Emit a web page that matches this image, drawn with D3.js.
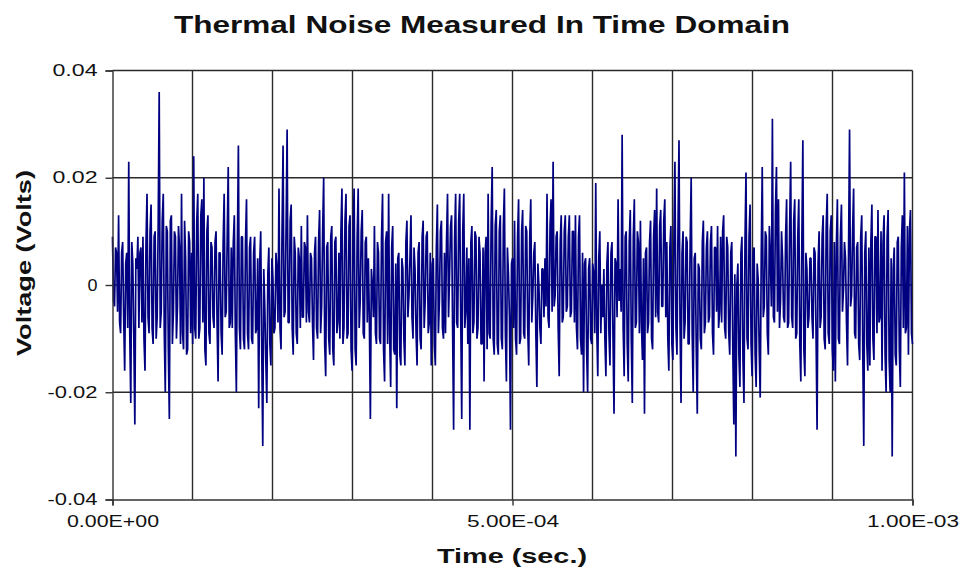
<!DOCTYPE html>
<html>
<head>
<meta charset="utf-8">
<script src="https://cdn.jsdelivr.net/npm/d3@7"></script>
<style>
  html, body { margin: 0; padding: 0; background: #ffffff; }
  svg { display: block; }
  text { font-family: "Liberation Sans", Arial, sans-serif; fill: #111; }
</style>
</head>
<body>
<svg id="chart" width="959" height="572"></svg>
<script>
// ---- data ----
const chartTitle = "Thermal Noise Measured In Time Domain";
const xAxisTitle = "Time (sec.)";
const yAxisTitle = "Voltage (Volts)";

const timeStart = 0;          // seconds
const timeEnd = 1.0e-3;       // seconds
const timeTickValues = [0, 5.0e-4, 1.0e-3];
const timeTickLabels = ["0.00E+00", "5.00E-04", "1.00E-03"];
const timeGridValues = [1e-4, 2e-4, 3e-4, 4e-4, 5e-4, 6e-4, 7e-4, 8e-4, 9e-4, 1e-3];

const voltageTickValues = [-0.04, -0.02, 0, 0.02, 0.04];
const voltageTickLabels = ["-0.04", "-0.02", "0", "0.02", "0.04"];

// measured voltage samples, in millivolts, evenly spaced over the time span
const voltageMillivolts = [
  // 0 .. ~1.2E-04
  9, -3, -4, 7, 6, -5, 13, -7, -9, 6, 8, -6, -16, 4, 6, -8, 23, -9, -22, 8, 4, -10, -26, 5, 3, 9, -8, 6, 7, -7,
  9, -10, -16, 8, 17, -6, -9, 10, 15, -8, -11, 9, 10, -10, -6, 11, 36, -8, -5, 12, 17, -9, -20, 11, 10, -12, -25, 12,
  13, -11, -5, 10, 9, -10, -4, 11, 7, -11, 17, -9, -12, 12, 5, -13, -12, 10, 8, -9, 6, -11, 24, -8, -10, 12, 17, -10,
  -8, 13, 16, -7, 20, -12, -15, 10, 13, -9, -11, 8,
  // ~1.2E-04 .. ~2.4E-04
  7, -6, -8, 8, 10, -7, -18, 6, 6, -9, -13, 8, 17, -6, -5, 9, 22, -8, -7, 7, -8, 8, 13, -9, -20, 7, 26, -8, -12, 9,
  9, -10, -12, 8, 16, -9, -12, 7, 9, -10, -11, 6, 9, -9, -8, 5, -23, 4, 10, -12, -30, 3, -4, -14, -22, 2, 7, -11,
  -15, 5, 1, -9, -8, 6, 3, -7, 18, -8, -12, 10, 26, -6, -5, 11, 29, -7, -7, 12, 15, -8, -13, 9, 6, -9, -11, 7, 5, -8,
  11, -6, -6, 8, 7, -7, 13, -5, -7, 6,
  // ~2.4E-04 .. ~3.7E-04
  5, -7, -14, 6, 9, -8, -10, 8, 14, -9, -4, 10, 20, -11, -17, 7, 8, -10, -13, 9, 11, -12, -15, 8, 9, -9, -7, 6, -10, 10,
  18, -11, -8, 12, 17, -10, -9, 11, 13, -12, -16, 10, 18, -12, -15, 9, 18, -8, -3, 10, 14, -9, -10, 8, 9, -7, 5, -6,
  -25, 3, 0, -6, 11, -9, -11, 8, 6, -10, -11, 9, 17, -12, -18, 8, 10, -11, 17, -9, -19, 7, 11, -12, -13, 4, -23, 5,
  6, -13, -15, 5, 3, -10, -15, 8, 12, -6, -2, 5,
  // ~3.7E-04 .. ~5.0E-04
  13, -6, -10, 7, 3, -9, -15, 6, 8, -10, -12, 9, 12, -8, -3, 9, 10, -9, -7, 6, -15, 4, 5, -11, -15, 7, 15, -9, -3, 10,
  12, -8, -10, 6, -9, 8, 17, -6, 2, 11, 13, -8, -27, 9, 17, -7, -8, 12, 17, -6, -25, 10, 17, -8, -5, 7, -11, 5,
  -27, 8, 11, -9, -7, 10, 9, -10, -8, 9, 6, -11, -11, 7, -18, 6, 9, -12, 17, -9, -10, 12, 22, -10, -13, 11, 14, -11,
  -13, 10, 13, -10, -12, 11, 18, -9, -18, 7, 2, -6,
  // ~5.0E-04 .. ~6.2E-04
  -27, 4, 5, -8, 12, -10, -13, 9, 16, -11, -10, 10, 14, -9, -10, 11, 10, -8, -15, 9, 16, -7, -2, 6, 8, -9, -19, 4, 0, -8,
  -11, 3, 3, -6, 5, -4, 17, -6, -8, 11, 16, -5, 23, -4, -2, 9, 10, -8, -17, 8, 13, -7, -6, 10, 13, -5, -4, 9,
  13, -6, -5, 10, 10, -7, 13, -8, -12, 9, 13, -10, -13, 6, -20, 4, 5, -12, -20, 3, 5, -10, -11, 4, 2, -9, 19, -8,
  -17, 5, 10, -9, 0, -6, 3, -10, -17, 4,
  // ~6.2E-04 .. ~7.5E-04
  8, -9, -15, 6, 8, -10, -24, 5, 4, -6, 16, -3, 3, -5, 28, -8, -17, 9, 10, -11, -18, 8, 14, -10, -22, 9, 16, -8, -7, 10,
  8, -9, 12, -7, -14, 5, -24, 6, 7, -9, -7, 8, 12, -10, -12, 9, 14, -6, 18, -5, -7, 11, 14, -4, -4, 12, 16, -6,
  8, -10, -16, 7, 11, -11, -14, 9, 23, -8, -13, 10, 27, -7, -22, 6, 10, -10, -7, 9, 8, -11, -11, 8, 20, -9, -20, 5,
  6, -12, -24, 4, 3, -10, -12, 8, 12, -9, -7, 7,
  // ~7.5E-04 .. ~8.7E-04
  10, -7, -6, 8, 11, -9, -13, 7, 7, -5, 11, -8, -5, 9, -7, 10, 13, -8, -10, 9, 7, -9, -13, 6, 8, -12, -26, 2, -32, 0,
  4, -13, -19, 6, 9, -14, -22, 8, 21, -10, -12, 9, 15, -11, -17, 6, 7, -13, -19, 4, 1, -12, -21, 5, 22, -6, -4, 10,
  9, -9, -13, 11, 5, -4, 31, -6, -7, 14, 22, -5, 16, -8, -3, 10, 5, -6, -7, 9, 16, -8, -7, 11, 23, -6, -8, 12,
  16, -10, -9, 9, 16, -11, -18, 8, 27, -12, -17, 6, 3, -8, -6, 5,
  // ~8.7E-04 .. 1.0E-03
  5, -6, -10, 7, 6, -9, -27, 4, 10, -8, -6, 9, 13, -10, -12, 11, 17, -9, -11, 10, 13, -12, -16, 8, -18, 7, 16, -10, -11, 9,
  15, -5, -1, 8, 5, -7, -15, 6, 29, -4, -2, 10, 18, -9, -10, 7, 8, -11, -14, 9, 13, -12, -30, 6, 10, -11, -16, 7,
  -15, 8, 15, -10, -14, 9, 9, -9, 14, -7, -6, 10, -16, 8, 13, -13, -20, 9, 14, -14, -20, 5, -32, 3, 7, -13, -15, 8,
  9, -12, -19, 7, 13, -8, 21, -9, -8, 11, -13, 10, 14, -9, -11
];

// ---- build the series (uniform sampling interval) ----
const sampleInterval = (timeEnd - timeStart) / (voltageMillivolts.length - 1);
const series = voltageMillivolts.map((mv, i) => ({ t: timeStart + i * sampleInterval, v: mv / 1000 }));

// ---- layout ----
const svg = d3.select("#chart");
const plot = { left: 112.5, right: 912.5, top: 70.5, bottom: 499.5 };

const x = d3.scaleLinear().domain([timeStart, timeEnd]).range([plot.left, plot.right]);
const y = d3.scaleLinear().domain([-0.04, 0.04]).range([plot.bottom, plot.top]);

const gridColor = "#2a2a2a";

// horizontal gridlines
svg.append("g").selectAll("line")
  .data(voltageTickValues.filter(v => v > -0.04))
  .join("line")
  .attr("x1", plot.left).attr("x2", plot.right)
  .attr("y1", d => y(d)).attr("y2", d => y(d))
  .attr("stroke", gridColor).attr("stroke-width", 1.4);

// vertical gridlines
svg.append("g").selectAll("line")
  .data(timeGridValues)
  .join("line")
  .attr("y1", plot.top).attr("y2", plot.bottom)
  .attr("x1", d => x(d)).attr("x2", d => x(d))
  .attr("stroke", gridColor).attr("stroke-width", 1.4);

// the noise trace
const line = d3.line().x(d => x(d.t)).y(d => y(d.v));
svg.append("path")
  .datum(series)
  .attr("d", line)
  .attr("fill", "none")
  .attr("stroke", "#000080")
  .attr("stroke-width", 1.7)
  .attr("stroke-linejoin", "bevel");

// y axis
const yAxis = d3.axisLeft(y).tickValues(voltageTickValues)
  .tickFormat((d, i) => voltageTickLabels[i]).tickSize(7).tickPadding(8);
const gy = svg.append("g").attr("transform", `translate(${plot.left},0)`).call(yAxis);
gy.select(".domain").attr("stroke", "#333").attr("stroke-width", 1.4);
gy.selectAll(".tick line").attr("stroke", "#333").attr("stroke-width", 1.4);
gy.selectAll(".tick text")
  .style("font-family", "'Liberation Sans', Arial, sans-serif")
  .style("font-size", "16px").attr("fill", "#222")
  .attr("textLength", (d, i) => voltageTickLabels[i].length > 3 ? (voltageTickLabels[i].startsWith("-") ? 50 : 45) : 10)
  .attr("lengthAdjust", "spacingAndGlyphs");

// x axis
const xAxis = d3.axisBottom(x).tickValues(timeTickValues)
  .tickFormat((d, i) => timeTickLabels[i]).tickSize(6).tickPadding(10);
const gx = svg.append("g").attr("transform", `translate(0,${plot.bottom})`).call(xAxis);
gx.select(".domain").attr("stroke", "#333").attr("stroke-width", 1.4);
gx.selectAll(".tick line").attr("stroke", "#333").attr("stroke-width", 1.4);
gx.selectAll(".tick text")
  .style("font-family", "'Liberation Sans', Arial, sans-serif")
  .style("font-size", "16px").attr("fill", "#222")
  .attr("textLength", 92).attr("lengthAdjust", "spacingAndGlyphs");

// titles
svg.append("text")
  .attr("x", 482).attr("y", 33)
  .attr("text-anchor", "middle")
  .style("font-size", "24px").style("font-weight", "bold")
  .attr("textLength", 616).attr("lengthAdjust", "spacingAndGlyphs")
  .text(chartTitle);

svg.append("text")
  .attr("x", 512).attr("y", 563)
  .attr("text-anchor", "middle")
  .style("font-size", "20px").style("font-weight", "bold")
  .attr("textLength", 150).attr("lengthAdjust", "spacingAndGlyphs")
  .text(xAxisTitle);

svg.append("text")
  .attr("transform", "translate(31,263) rotate(-90)")
  .attr("text-anchor", "middle")
  .style("font-size", "21px").style("font-weight", "bold")
  .attr("textLength", 186).attr("lengthAdjust", "spacingAndGlyphs")
  .text(yAxisTitle);
</script>
</body>
</html>
